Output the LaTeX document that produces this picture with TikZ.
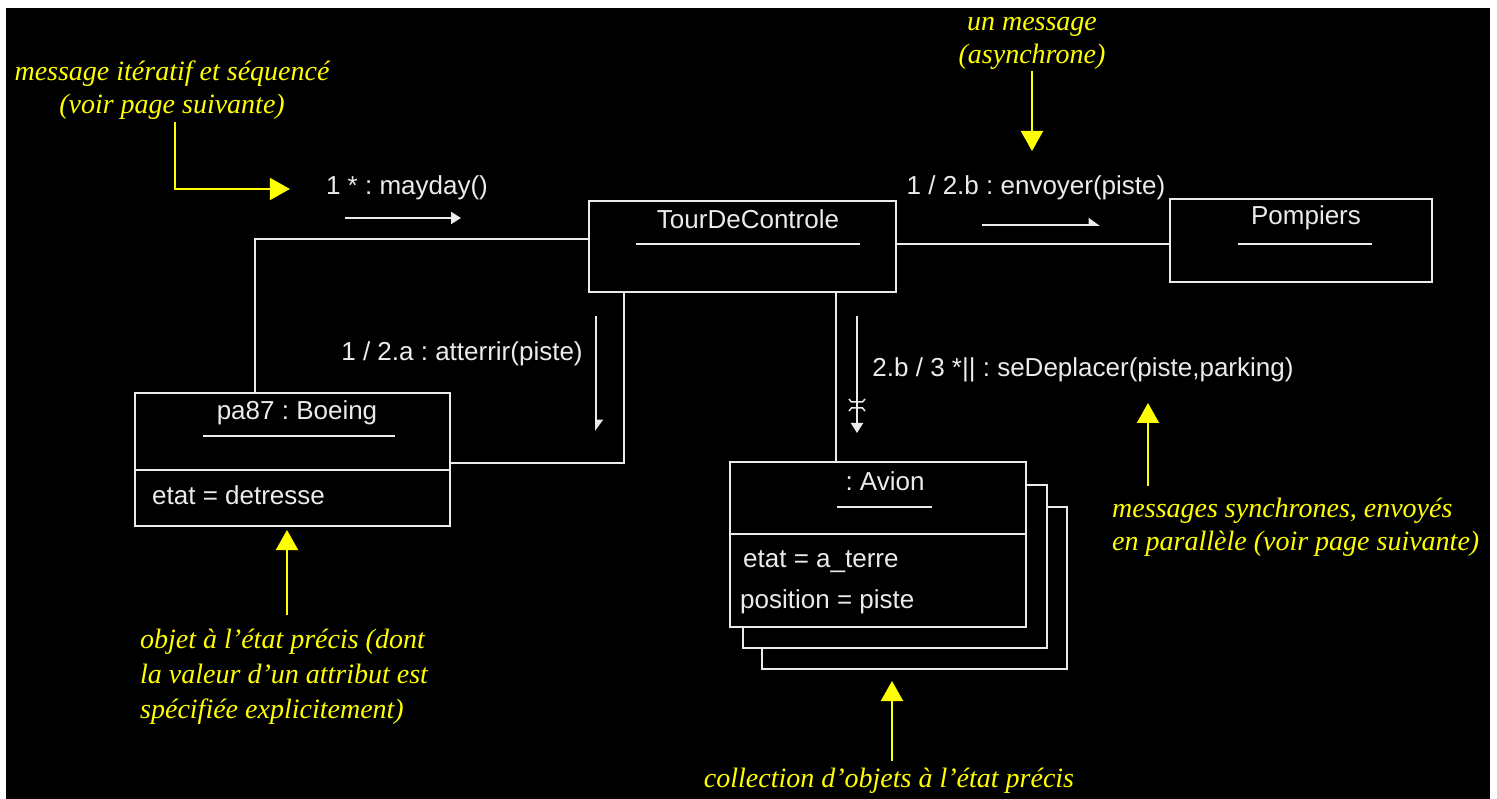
\documentclass[tikz,border=0pt]{standalone}
\usepackage{fontspec}
\setmainfont{Liberation Sans}
\newfontfamily\notefont{Liberation Serif}
\usetikzlibrary{arrows.meta,calc}
\definecolor{noteyellow}{RGB}{255,255,0}
\definecolor{wirewhite}{RGB}{235,235,235}
\frenchspacing
\begin{document}
\begin{tikzpicture}[x=1pt,y=-1pt,
  wire/.style={draw=wirewhite,line width=2pt},
  box/.style={draw=wirewhite,line width=2pt,fill=black,rectangle,inner sep=0pt},
  lbl/.style={text=wirewhite,font=\fontsize{26}{30}\selectfont,inner sep=0pt},
  note/.style={text=noteyellow,font=\notefont\itshape\fontsize{28}{33}\selectfont,inner sep=0pt},
  pointer/.style={draw=noteyellow,line width=2pt,-{Triangle[length=20pt,width=22pt]}},
  syncmsg/.style={wire,-{Triangle[length=10pt,width=12pt]}},
  asyncmsg/.style={wire,-{Triangle[harpoon,length=10pt,width=14pt]}},
]
\useasboundingbox (0,0) rectangle (1497,799);
\fill[white] (0,0) rectangle (1497,799);
\fill[black] (6,8) rectangle (1490,799);

% boxes
\node[box,minimum width=307pt,minimum height=91pt] (tour) at (742.5,246.5) {};
\node[box,minimum width=262pt,minimum height=83pt] (pomp) at (1301,240.5) {};
\node[box,minimum width=315pt,minimum height=133pt] (boeing) at (292.5,459.5) {};
\node[box,minimum width=305pt,minimum height=162pt] (avion3) at (914.5,588) {};
\node[box,minimum width=304pt,minimum height=163pt] (avion2) at (895,566.5) {};
\node[box,minimum width=296pt,minimum height=165pt] (avion) at (878,544.5) {};

% compartments
\draw[wire] ($(boeing.north west)+(0,78)$) -- ($(boeing.north east)+(0,78)$);
\draw[wire] ($(avion.north west)+(0,73)$) -- ($(avion.north east)+(0,73)$);

% names and attributes
\node[lbl] (tourname) at (748,219) {TourDeControle};
\draw[wire] (636,244) -- (860,244);
\node[lbl] (pompname) at (1306,218) {Pompiers};
\draw[wire] (1238,244) -- (1372,244);
\node[lbl] (boeingname) at (297,413) {pa87 : Boeing};
\draw[wire] (203,436) -- (395,436);
\node[lbl,anchor=west] (boeingattr) at (152,495) {etat = detresse};
\node[lbl] (avionname) at (885,481) {: Avion};
\draw[wire] (837,507) -- (932,507);
\node[lbl,anchor=west] (avionattr1) at (743,562) {etat = a\_terre};
\node[lbl,anchor=west] (avionattr2) at (740,602) {position = piste};

% links
\coordinate (c1) at (255,239);
\coordinate (c2) at (624,463);
\coordinate (c3) at (836,300);
\coordinate (c4) at (1000,244);
\draw[wire] (tour.west |- c1) -| (c1 |- boeing.north);
\draw[wire] (c2 |- tour.south) |- (boeing.east |- c2);
\draw[wire] (c3 |- tour.south) -- (c3 |- avion.north);
\draw[wire] (tour.east |- c4) -- (pomp.west |- c4);

% messages
\node[lbl] (maydaylbl) at (407,188) {1 * : mayday()};
\coordinate (m1a) at (345,218); \coordinate (m1b) at (461,218);
\draw[syncmsg] (m1a) -- (m1b);

\node[lbl] (envoyerlbl) at (1036,188) {1 / 2.b : envoyer(piste)};
\coordinate (m2a) at (982,225); \coordinate (m2b) at (1100,225);
\draw[asyncmsg] (m2a) -- (m2b);

\node[lbl] (atterrirlbl) at (462,354) {1 / 2.a : atterrir(piste)};
\coordinate (m3a) at (596,316); \coordinate (m3b) at (596,431);
\draw[asyncmsg] (m3a) -- (m3b);

\node[lbl] (deplacerlbl) at (1083,370) {2.b / 3 *|| : seDeplacer(piste,parking)};
\coordinate (m4a) at (857,316); \coordinate (m4b) at (857,433);
\draw[syncmsg] (m4a) -- (m4b);
\draw[wire,line width=1.5pt] (849,399) -- (851.5,402) -- (862.5,402) -- (865,399);
\draw[wire,line width=1.5pt] (849,411) -- (851.5,408) -- (862.5,408) -- (865,411);

% notes
\node[note,align=center] (note1) at (172,90) {message itératif et séquencé\\(voir page suivante)};
\draw[pointer] ([xshift=3pt,yshift=-2pt]note1.south) |- ([xshift=-36pt,yshift=-1pt]maydaylbl.west);

\node[note,align=center] (note2) at (1032,43) {un message\\(asynchrone)};
\coordinate (t2) at (1032,151);
\draw[pointer] ($(t2 |- note2.south)+(0,2)$) -- (t2);

\node[note,align=left,anchor=west] (note3) at (1112,527) {messages synchrones, envoyés\\en parallèle (voir page suivante)};
\coordinate (t3) at (1148,403);
\draw[pointer] ($(t3 |- note3.north)+(0,-12)$) -- (t3);

\node[note,align=left,anchor=west,font=\notefont\itshape\fontsize{28}{35}\selectfont] (note4) at (140,677) {objet à l’état précis (dont\\la valeur d’un attribut est\\spécifiée explicitement)};
\coordinate (t4) at (287,530);
\draw[pointer] ($(t4 |- note4.north)+(0,-14)$) -- (t4);

\node[note] (note5) at (889,781) {collection d’objets à l’état précis};
\coordinate (t5) at (892,681);
\draw[pointer] ($(t5 |- note5.north)+(0,-7)$) -- (t5);
\end{tikzpicture}
\end{document}
